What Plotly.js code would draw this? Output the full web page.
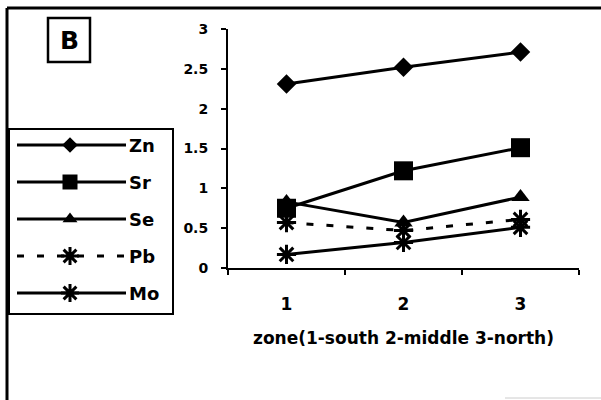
<!DOCTYPE html>
<html>
<head>
<meta charset="utf-8">
<script src="https://cdn.plot.ly/plotly-3.0.1.min.js"></script>
<style>html,body{margin:0;padding:0;background:#fff;}#chart{width:601px;height:400px;}</style>
</head>
<body>
<div id="chart"></div>
<script>
// ---- data ----
const zones = [1, 2, 3];
const zoneLabels = ['1', '2', '3'];
const seriesNames = ['Zn', 'Sr', 'Se', 'Pb', 'Mo'];
const Zn = [2.31, 2.52, 2.71];
const Sr = [0.75, 1.22, 1.51];
const Se = [0.83, 0.57, 0.89];
const Pb = [0.57, 0.47, 0.61];
const Mo = [0.17, 0.32, 0.51];
const yTicks = [0, 0.5, 1, 1.5, 2, 2.5, 3];
const yTickLabels = ['0', '0.5', '1', '1.5', '2', '2.5', '3'];
const xTitle = 'zone(1-south 2-middle 3-north)';
const panelLabel = 'B';

// ---- styles ----
const FONT = 'DejaVu Sans, Liberation Sans, Arial, sans-serif';
const styles = {
  Zn: {symbol: 'diamond', size: 15, dash: 'solid', lsize: 12},
  Sr: {symbol: 'square', size: 19, dash: 'solid', lsize: 15},
  Se: {symbol: 'triangle-up', size: 16, dash: 'solid', lsize: 13},
  Pb: {symbol: 'asterisk-open', size: 16, dash: '7px,13px', lsize: 15},
  Mo: {symbol: 'asterisk-open', size: 16, dash: 'solid', lsize: 15}
};
const values = {Zn, Sr, Se, Pb, Mo};

const traces = [];
seriesNames.forEach(n => {
  const s = styles[n];
  traces.push({
    type: 'scatter', mode: 'lines+markers', name: n,
    x: zones, y: values[n], xaxis: 'x', yaxis: 'y', cliponaxis: false,
    line: {color: '#000', width: 3, dash: s.dash},
    marker: {symbol: s.symbol, size: s.size, color: '#000',
             line: {color: '#000', width: s.symbol.indexOf('asterisk') >= 0 ? 3 : 0}},
    showlegend: false, hoverinfo: 'skip'
  });
});

// ---- legend drawn in a pixel-coordinate overlay ----
const legLeft = 17, legRight = 126, legMid = 70, legTop = 145, legStep = 37, legText = 127;
const annotations = [];
seriesNames.forEach((n, i) => {
  const s = styles[n];
  const yy = legTop + i * legStep;
  traces.push({
    type: 'scatter', mode: 'lines', x: [legLeft, legRight], y: [yy, yy],
    xaxis: 'x2', yaxis: 'y2', line: {color: '#000', width: 3, dash: s.dash},
    showlegend: false, hoverinfo: 'skip', cliponaxis: false
  });
  traces.push({
    type: 'scatter', mode: 'markers', x: [legMid], y: [yy],
    xaxis: 'x2', yaxis: 'y2', cliponaxis: false,
    marker: {symbol: s.symbol, size: s.lsize, color: '#000',
             line: {color: '#000', width: s.symbol.indexOf('asterisk') >= 0 ? 3 : 0}},
    showlegend: false, hoverinfo: 'skip'
  });
  annotations.push({xref: 'x2', yref: 'y2', x: legText, y: yy, text: '<b>' + n + '</b>',
    showarrow: false, xanchor: 'left', yanchor: 'middle',
    font: {family: FONT, size: 18, color: '#000'}});
});
annotations.push({xref: 'x2', yref: 'y2', x: 69, y: 40, text: '<b>' + panelLabel + '</b>',
  showarrow: false, xanchor: 'center', yanchor: 'middle',
  font: {family: FONT, size: 25, color: '#000'}});

const shapes = [
  {type: 'line', xref: 'x2', yref: 'y2', x0: 7, x1: 601, y0: 8, y1: 8, line: {color: '#000', width: 3}},
  {type: 'line', xref: 'x2', yref: 'y2', x0: 7, x1: 7, y0: 8, y1: 400, line: {color: '#000', width: 3}},
  {type: 'rect', xref: 'x2', yref: 'y2', x0: 9, x1: 173, y0: 129, y1: 314, line: {color: '#000', width: 2}},
  {type: 'rect', xref: 'x2', yref: 'y2', x0: 48, x1: 90, y0: 18, y1: 62, line: {color: '#000', width: 2.5}},
  {type: 'line', xref: 'x2', yref: 'y2', x0: 505, x1: 601, y0: 398, y1: 398, line: {color: '#ccc', width: 1}}
];

const W = 601, H = 400;
const layout = {
  width: W, height: H,
  margin: {l: 0, r: 0, t: 0, b: 0},
  paper_bgcolor: '#fff', plot_bgcolor: 'rgba(0,0,0,0)',
  showlegend: false,
  font: {family: FONT, color: '#000'},
  xaxis: {
    domain: [228 / W, 579 / W], range: [0.5, 3.5], anchor: 'y',
    tickmode: 'array', tickvals: zones, ticktext: zoneLabels.map(t => '<b>' + t + '</b>'),
    ticks: 'outside', ticklen: 0, tickwidth: 0,
    minor: {tickmode: 'array', tickvals: [0.5, 1.5, 2.5, 3.5], ticks: 'outside', ticklen: 5, tickwidth: 2, tickcolor: '#000', showgrid: false},
    ticklabelstandoff: 20,
    tickfont: {family: FONT, size: 17, color: '#000'},
    showline: true, linecolor: '#000', linewidth: 2, showgrid: false, zeroline: false,
    title: {text: '<b>' + xTitle + '</b>', font: {family: FONT, size: 17, color: '#000'}, standoff: 19},
    fixedrange: true
  },
  yaxis: {
    domain: [1 - 268 / H, 1 - 29 / H], range: [0, 3], anchor: 'x',
    tickmode: 'array', tickvals: yTicks, ticktext: yTickLabels.map(t => '<b>' + t + '</b>'),
    ticks: 'outside', ticklen: 5, tickwidth: 2, tickcolor: '#000',
    ticklabelstandoff: 10,
    tickfont: {family: FONT, size: 14, color: '#000'},
    showline: true, linecolor: '#000', linewidth: 2, showgrid: false, zeroline: false,
    fixedrange: true
  },
  xaxis2: {domain: [0, 1], range: [0, W], anchor: 'y2', visible: false, fixedrange: true},
  yaxis2: {domain: [0, 1], range: [H, 0], anchor: 'x2', visible: false, fixedrange: true},
  shapes: shapes,
  annotations: annotations
};

Plotly.newPlot('chart', traces, layout, {staticPlot: true, displayModeBar: false});
</script>
</body>
</html>
